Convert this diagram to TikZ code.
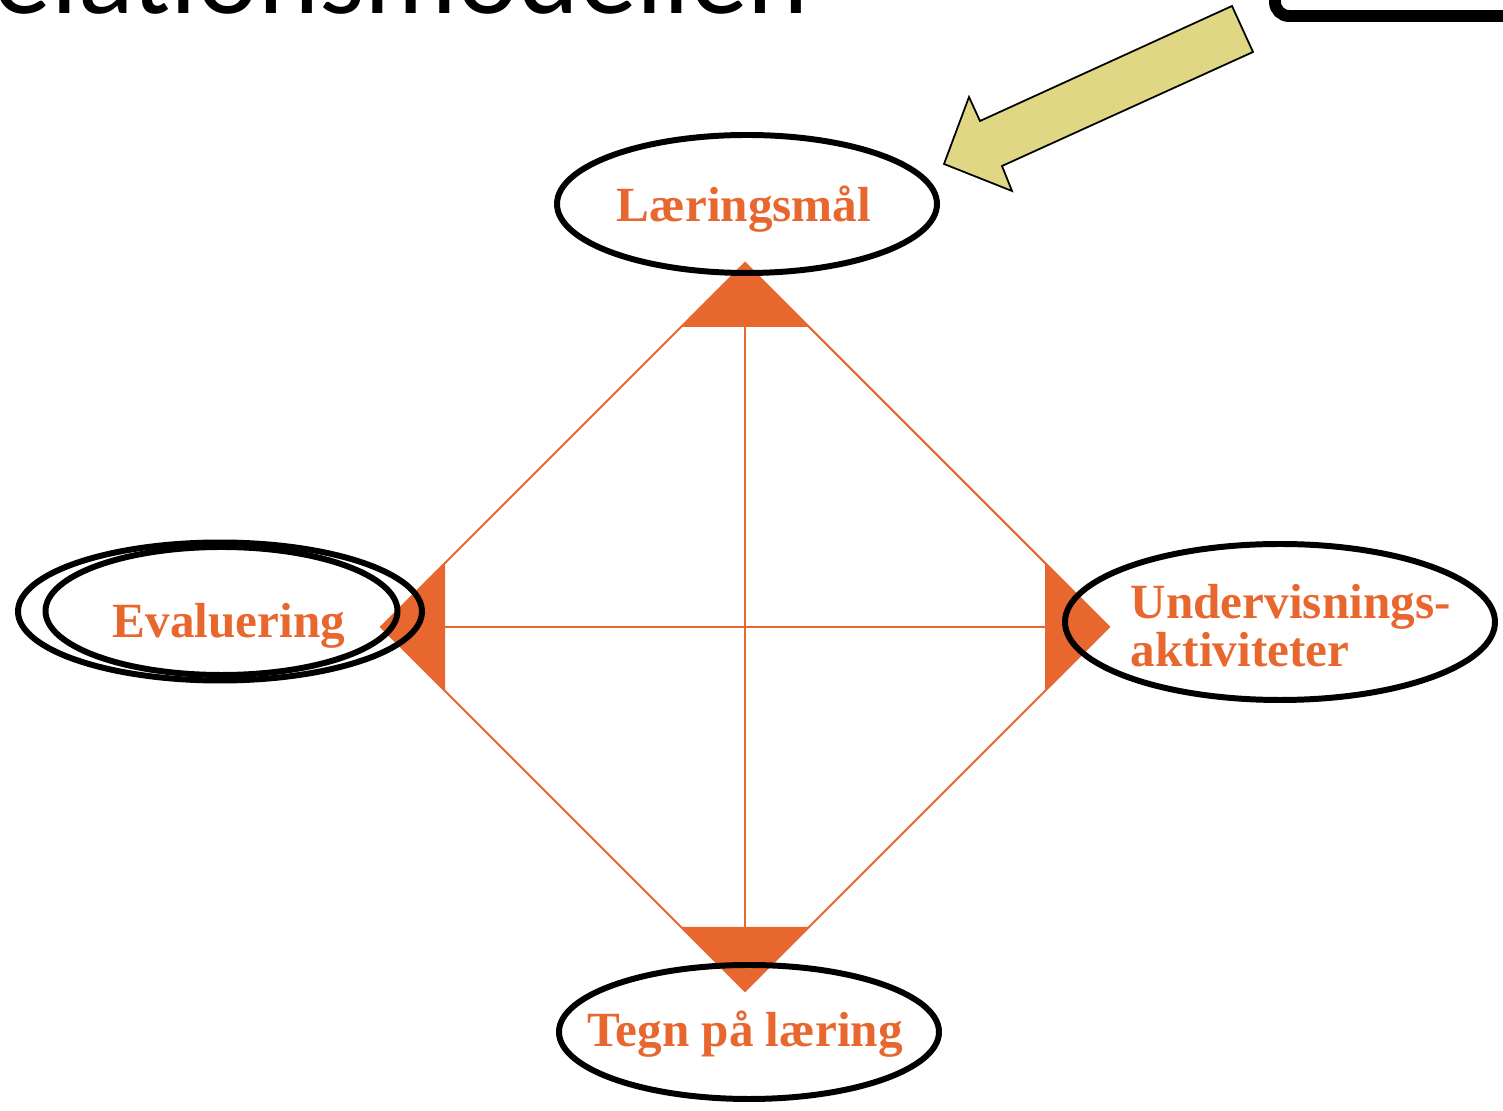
\documentclass[tikz,border=0pt]{standalone}
\usepackage{fontspec}
\setmainfont{Liberation Serif}
\newfontfamily\slidefont{Carlito}
\usetikzlibrary{positioning}
\definecolor{rmorange}{HTML}{E8672F}
\definecolor{rmyellow}{HTML}{DFD784}

\begin{document}
\begin{tikzpicture}[
    lbl/.style={text=rmorange,inner sep=0pt,font=\fontsize{14}{13.9}\selectfont\bfseries},
    ring/.style={draw=black,line width=1.7pt},
    edge/.style={draw=rmorange,line width=0.6pt}]
    \useasboundingbox (0,0) rectangle (15.03,11.11);
    % slide title and box, cut off
    \node[anchor=base west,inner sep=0pt,font=\slidefont\fontsize{33}{36}\selectfont] (title) at (-0.07,10.97) {elationsmodellen};
    \draw[line width=3.4pt,rounded corners=4pt] (12.75,10.95) rectangle (16,12);
    % corners of the diamond
    \coordinate (top) at (7.45,8.48);
    \coordinate (bot) at (7.45,1.20);
    \coordinate (lft) at (3.81,4.84);
    \coordinate (rgt) at (11.09,4.84);
    \coordinate (topb) at (7.45,7.84);
    \coordinate (botb) at (7.45,1.84);
    \coordinate (lftb) at (4.45,4.84);
    \coordinate (rgtb) at (10.45,4.84);
    \draw[edge] (top) -- (rgt) -- (bot) -- (lft) -- cycle;
    \draw[edge] (topb) -- (botb);
    \draw[edge] (lftb) -- (rgtb);
    \fill[rmorange] (7.45,8.48) -- (6.81,7.84) -- (8.09,7.84) -- cycle;
    \fill[rmorange] (7.45,1.20) -- (6.81,1.84) -- (8.09,1.84) -- cycle;
    \fill[rmorange] (3.81,4.84) -- (4.45,5.48) -- (4.45,4.20) -- cycle;
    \fill[rmorange] (11.09,4.84) -- (10.45,5.48) -- (10.45,4.20) -- cycle;
    % labels
    \node[lbl,anchor=base] (maal) at (7.44,8.89) {Læringsmål};
    \node[lbl,anchor=base] (tegn) at (7.45,0.64) {Tegn på læring};
    \node[lbl,anchor=base] (eval) at (2.29,4.73) {Evaluering};
    \node[lbl,anchor=base west,align=left] (akt) at (11.30,4.44) {Undervisnings-\\aktiviteter};
    % rings drawn on top
    \draw[ring] (7.47,9.07) ellipse [x radius=1.90, y radius=0.69];
    \draw[ring] (7.49,0.79) ellipse [x radius=1.90, y radius=0.67];
    \draw[ring] (12.80,4.89) ellipse [x radius=2.15, y radius=0.78];
    \draw[ring] (2.20,4.995) ellipse [x radius=2.02, y radius=0.69];
    \draw[ring] (2.215,5.00) ellipse [x radius=1.76, y radius=0.64];
    % pointer
    \draw[fill=rmyellow,line width=0.5pt] (12.32,11.05) -- (12.53,10.59) -- (10.02,9.45) -- (10.12,9.20)
        -- (9.44,9.47) -- (9.69,10.14) -- (9.80,9.90) -- cycle;
\end{tikzpicture}
\end{document}
